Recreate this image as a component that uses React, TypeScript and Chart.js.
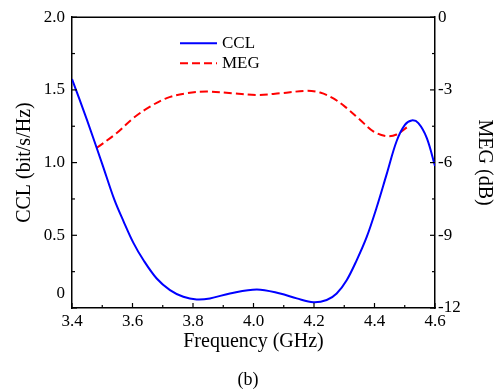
import React, { useEffect, useRef } from "react";
import { Chart, registerables } from "chart.js";

Chart.register(...registerables);

// CCL (left axis, bit/s/Hz)
const freqCCL = [3.4, 3.45, 3.5, 3.54, 3.57, 3.603, 3.636, 3.68, 3.724, 3.768, 3.812, 3.856, 3.922, 4.011, 4.088, 4.143, 4.198, 4.242, 4.275, 4.308, 4.341, 4.374, 4.407, 4.44, 4.473, 4.501, 4.523, 4.545, 4.573, 4.6];
const cclValues = [1.575, 1.29, 0.99, 0.745, 0.598, 0.448, 0.33, 0.203, 0.123, 0.077, 0.059, 0.066, 0.1, 0.128, 0.1, 0.066, 0.039, 0.055, 0.1, 0.191, 0.328, 0.487, 0.691, 0.919, 1.147, 1.261, 1.29, 1.272, 1.169, 0.976];

// MEG (right axis, dB)
const freqMEG = [3.482, 3.548, 3.603, 3.658, 3.713, 3.779, 3.845, 3.933, 4.011, 4.088, 4.176, 4.22, 4.264, 4.308, 4.352, 4.396, 4.44, 4.473, 4.512];
const megValues = [-5.39, -4.78, -4.16, -3.69, -3.34, -3.14, -3.07, -3.14, -3.21, -3.14, -3.04, -3.11, -3.35, -3.75, -4.23, -4.71, -4.91, -4.84, -4.5];

const xTitle = "Frequency (GHz)";
const yTitle = "CCL (bit/s/Hz)";
const y1Title = "MEG (dB)";
const seriesNames = ["CCL", "MEG"];
const caption = "(b)";

const FONT = "'Liberation Serif', 'Times New Roman', serif";

export default function App() {
  const ref = useRef<HTMLCanvasElement | null>(null);

  useEffect(() => {
    if (!ref.current) return;

    const framePlugin = {
      id: "frame",
      afterDraw(chart: any) {
        const ctx = chart.ctx;
        const { left, right, top, bottom } = chart.chartArea;
        const xs = chart.scales.x;
        const ys = chart.scales.y;
        const y1 = chart.scales.y1;
        ctx.save();
        ctx.strokeStyle = "#000";
        ctx.lineWidth = 1.5;
        // top frame line
        ctx.beginPath();
        ctx.moveTo(left, top);
        ctx.lineTo(right, top);
        ctx.stroke();
        ctx.lineWidth = 1.2;
        // x ticks (inward)
        for (let i = 0; i <= 12; i++) {
          const v = xs.min + i * 0.1;
          const px = xs.getPixelForValue(v);
          const len = i % 2 === 0 ? 5 : 3;
          ctx.beginPath();
          ctx.moveTo(px, bottom);
          ctx.lineTo(px, bottom - len);
          ctx.stroke();
        }
        // left ticks
        for (let i = 0; i <= 8; i++) {
          const v = ys.min + i * 0.25;
          const py = ys.getPixelForValue(v);
          const len = i % 2 === 0 ? 5 : 3;
          ctx.beginPath();
          ctx.moveTo(left, py);
          ctx.lineTo(left + len, py);
          ctx.stroke();
        }
        // right ticks
        for (let i = 0; i <= 8; i++) {
          const v = y1.min + i * 1.5;
          const py = y1.getPixelForValue(v);
          const len = i % 2 === 0 ? 5 : 3;
          ctx.beginPath();
          ctx.moveTo(right, py);
          ctx.lineTo(right - len, py);
          ctx.stroke();
        }
        // left "0" label (placed above the corner like the original)
        ctx.fillStyle = "#000";
        ctx.font = `17px ${FONT}`;
        ctx.textAlign = "right";
        ctx.textBaseline = "middle";
        ctx.fillText("0", left - 7, ys.getPixelForValue(0) - 14);

        // legend
        const lx0 = left + 108;
        const lx1 = left + 145;
        const ly = [top + 26, top + 46];
        const cols = ["#0000ff", "#ff0000"];
        for (let i = 0; i < 2; i++) {
          ctx.strokeStyle = cols[i];
          ctx.lineWidth = 2;
          ctx.setLineDash(i === 1 ? [8, 4] : []);
          ctx.beginPath();
          ctx.moveTo(lx0, ly[i]);
          ctx.lineTo(lx1, ly[i]);
          ctx.stroke();
          ctx.setLineDash([]);
          ctx.textAlign = "left";
          ctx.fillText(seriesNames[i], lx1 + 5, ly[i]);
        }
        ctx.restore();
      },
    };

    const chart = new Chart(ref.current, {
      type: "line",
      data: {
        datasets: [
          {
            label: seriesNames[0],
            data: freqCCL.map((f, i) => ({ x: f, y: cclValues[i] })),
            borderColor: "#0000ff",
            borderWidth: 2,
            pointRadius: 0,
            tension: 0.35,
            yAxisID: "y",
          },
          {
            label: seriesNames[1],
            data: freqMEG.map((f, i) => ({ x: f, y: megValues[i] })),
            borderColor: "#ff0000",
            borderWidth: 2,
            borderDash: [8, 4],
            pointRadius: 0,
            tension: 0.35,
            yAxisID: "y1",
          },
        ],
      },
      options: {
        responsive: false,
        animation: false,
        layout: { padding: { top: 15, left: 0, right: 0, bottom: 0 } },
        plugins: {
          legend: { display: false },
          tooltip: { enabled: false },
          title: {
            display: true,
            text: caption,
            position: "bottom",
            color: "#000",
            font: { family: FONT, size: 18, weight: "normal" },
            padding: { top: 0, bottom: 0 },
          },
        },
        scales: {
          x: {
            type: "linear",
            position: "bottom",
            min: 3.4,
            max: 4.6,
            grid: { display: false, drawTicks: false },
            border: { display: true, color: "#000", width: 1.5 },
            ticks: {
              stepSize: 0.2,
              color: "#000",
              font: { family: FONT, size: 17 },
              padding: 3,
              maxRotation: 0,
              callback: (v: any) => Number(v).toFixed(1),
            },
            title: {
              display: true,
              text: xTitle,
              color: "#000",
              font: { family: FONT, size: 20 },
              padding: { top: 0, bottom: 16 },
            },
            afterFit: (s: any) => {
              s.height = 391 - 21.6 - 308;
            },
          },
          y: {
            type: "linear",
            position: "left",
            min: 0,
            max: 2,
            grid: { display: false, drawTicks: false },
            border: { display: true, color: "#000", width: 1.5 },
            ticks: {
              stepSize: 0.5,
              color: "#000",
              font: { family: FONT, size: 17 },
              padding: 7,
              callback: (v: any) => (Number(v) === 0 ? "" : Number(v).toFixed(1)),
            },
            title: {
              display: true,
              text: yTitle,
              color: "#000",
              font: { family: FONT, size: 20 },
              padding: { top: 13, bottom: 0 },
            },
            afterFit: (s: any) => {
              s.width = 72;
            },
          },
          y1: {
            type: "linear",
            position: "right",
            min: -12,
            max: 0,
            grid: { display: false, drawTicks: false },
            border: { display: true, color: "#000", width: 1.5 },
            ticks: {
              stepSize: 3,
              color: "#000",
              font: { family: FONT, size: 17 },
              padding: 3,
              callback: (v: any) => String(v),
            },
            title: {
              display: true,
              text: y1Title,
              color: "#000",
              font: { family: FONT, size: 20 },
              padding: { top: 0, bottom: 0 },
            },
            afterFit: (s: any) => {
              s.width = 61;
            },
          },
        },
      },
      plugins: [framePlugin],
    } as any);

    return () => chart.destroy();
  }, []);

  return (
    <div style={{ position: "absolute", left: 0, top: 0, width: 496, height: 391, background: "#fff" }}>
      <canvas ref={ref} width={496} height={391} style={{ display: "block", width: 496, height: 391 }} />
    </div>
  );
}
